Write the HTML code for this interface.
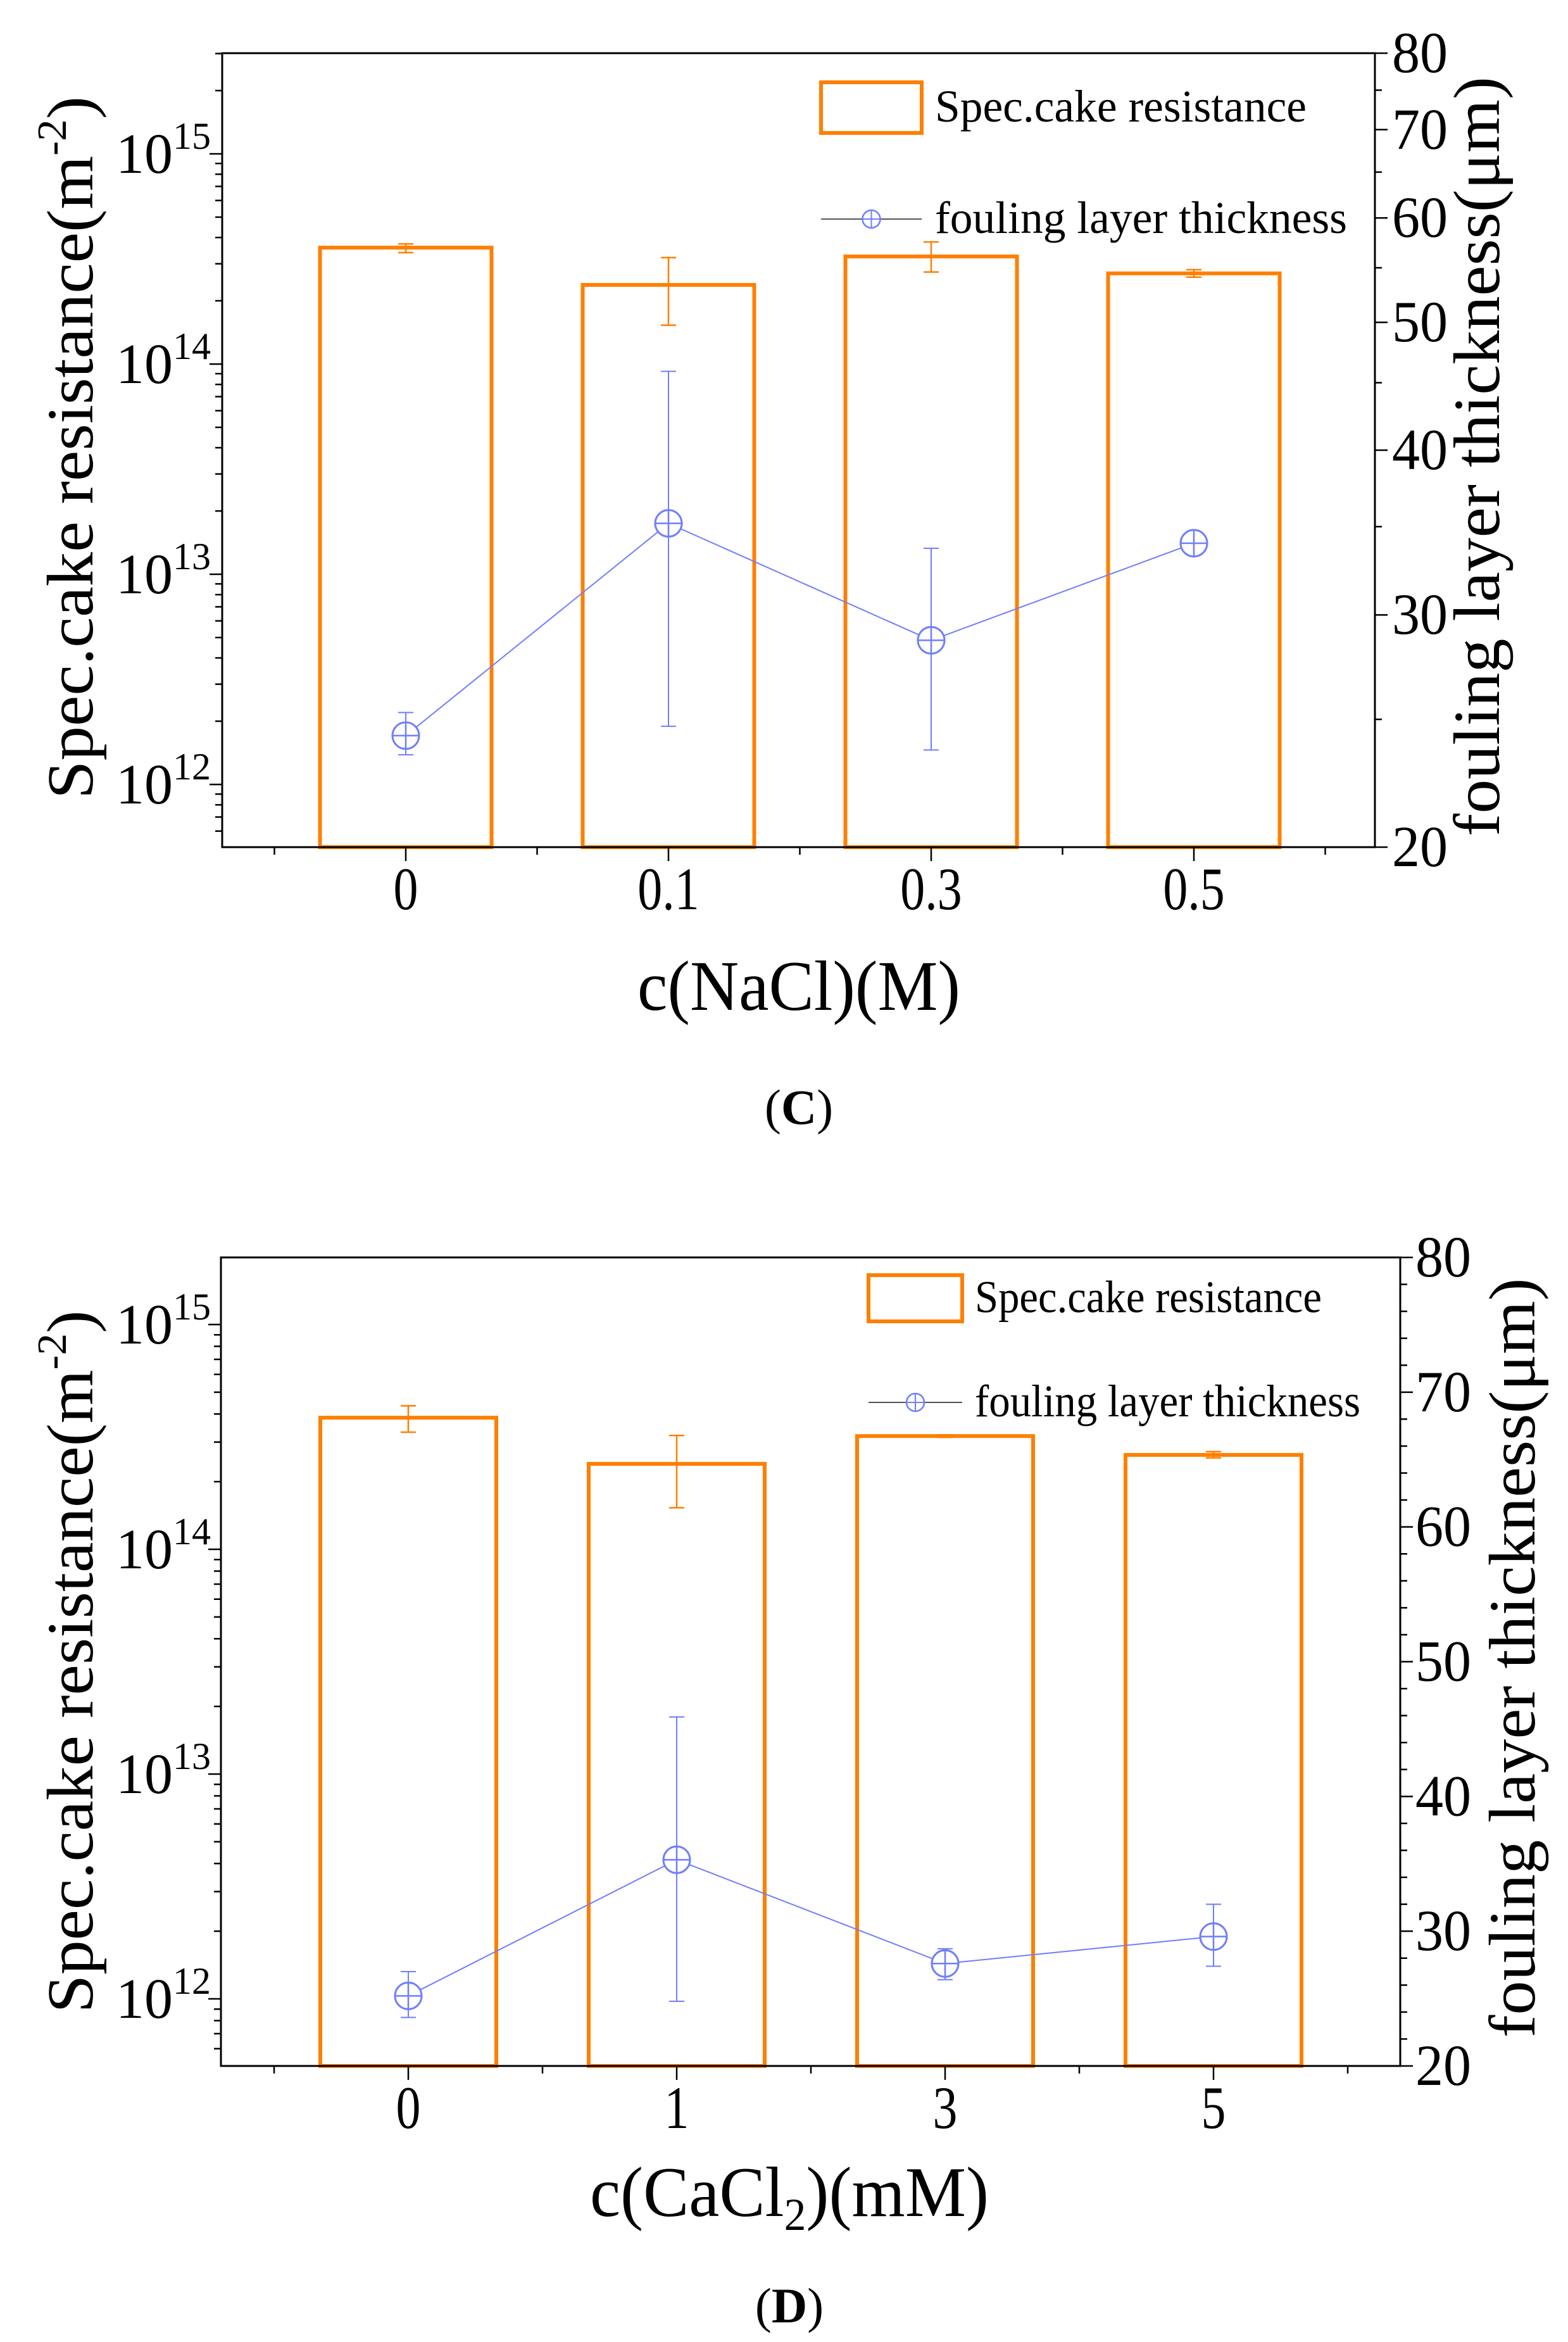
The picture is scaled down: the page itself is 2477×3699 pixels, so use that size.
<!DOCTYPE html>
<html><head><meta charset="utf-8"><style>
html,body{margin:0;padding:0;background:#fff;}
svg{display:block;}
text{font-family:"Liberation Serif",serif;fill:#000;}
</style></head><body>
<svg id="fig" width="2477" height="3699" viewBox="0 0 2477 3699" xmlns="http://www.w3.org/2000/svg"></svg>
<script>
// ---------- Panel C data ----------
const catsC = ["0","0.1","0.3","0.5"];
const resC = [3.58e14, 2.38e14, 3.25e14, 2.70e14];
const resHiC = [3.73e14, 3.21e14, 3.81e14, 2.81e14];
const resLoC = [3.39e14, 1.53e14, 2.74e14, 2.59e14];
const thickC = [24.3, 35.2, 28.7, 34.0];
const thickHiC = [25.3, 45.9, 33.7, 34.3];
const thickLoC = [23.5, 24.7, 23.7, 33.7];
const rightTicksC = [20,30,40,50,60,70,80];
// ---------- Panel D data ----------
const catsD = ["0","1","3","5"];
const resD = [3.85e14, 2.40e14, 3.19e14, 2.63e14];
const resHiD = [4.35e14, 3.21e14, 3.23e14, 2.72e14];
const resLoD = [3.32e14, 1.53e14, 3.15e14, 2.55e14];
const thickD = [25.2, 35.3, 27.6, 29.6];
const thickHiD = [27.0, 45.9, 28.7, 32.0];
const thickLoD = [23.6, 24.8, 26.4, 27.4];
const rightTicksD = [20,30,40,50,60,70,80];
const leftExps = [12,13,14,15];

const NS="http://www.w3.org/2000/svg";
const svg=document.getElementById('fig');
const OR="#ff7f00", BL="#6f7dff";
function mk(tag,attrs,parent){const e=document.createElementNS(NS,tag);for(const k in attrs)e.setAttribute(k,attrs[k]);(parent||svg).appendChild(e);return e;}

function panel(cfg){
  const g=mk('g',{});
  
  
  const L=cfg.L,R=cfg.R,T=cfg.T,B=cfg.B;
  const yL=v=>cfg.y15+(15-Math.log10(v))*cfg.dec;
  const yR=cfg.rightLog
    ? v=>T+(Math.log10(80)-Math.log10(v))/(Math.log10(80)-Math.log10(20))*(B-T)
    : v=>T+(80-v)/60*(B-T);
  const xC=i=>cfg.x0+i*cfg.sp;
  cfg.res.forEach((v,i)=>{
    const r=mk('rect',{x:xC(i)-cfg.bw/2,y:yL(v),width:cfg.bw,height:B-yL(v),fill:'none',stroke:OR,'stroke-width':6},g);
    
    
    const hi=yL(cfg.resHi[i]),lo=yL(cfg.resLo[i]);
    const eb=mk('path',{d:`M${xC(i)} ${hi}V${lo}M${xC(i)-12} ${hi}H${xC(i)+12}M${xC(i)-12} ${lo}H${xC(i)+12}`,stroke:OR,'stroke-width':2.5,fill:'none'},g);
    
    
  });
  const fr=mk('rect',{x:L,y:T,width:R-L,height:B-T,fill:'none',stroke:'#000','stroke-width':3},g);
  
  
  const pts=cfg.th.map((v,i)=>xC(i)+','+yR(v)).join(' ');
  const pl=mk('polyline',{points:pts,fill:'none',stroke:BL,'stroke-width':2},g);
  
  
  cfg.th.forEach((v,i)=>{
    const x=xC(i),y=yR(v),hi=yR(cfg.thHi[i]),lo=yR(cfg.thLo[i]);
    const e=mk('path',{d:`M${x} ${hi}V${lo}M${x-12} ${hi}H${x+12}M${x-12} ${lo}H${x+12}`,stroke:BL,'stroke-width':2,fill:'none'},g);
    
    
    const c=mk('circle',{cx:x,cy:y,r:21,fill:'#fff',stroke:BL,'stroke-width':3},g);
    
    
    mk('path',{d:`M${x-21} ${y}H${x+21}M${x} ${y-21}V${y+21}`,stroke:BL,'stroke-width':2.5},g);
  });
  for(let e=11;e<=15;e++){
    for(let m=1;m<10;m++){
      const v=m*Math.pow(10,e),y=yL(v);
      if(y<T||y>B)continue;
      mk('line',{x1:L,x2:L-(m==1?20:11),y1:y,y2:y,stroke:'#000','stroke-width':2.5},g);
    }
  }
  leftExps.forEach(e=>{
    const t=mk('text',{x:cfg.tlx,y:yL(Math.pow(10,e))+30,'font-size':90},g);
    
    
    t.textContent='10';
    const s=mk('tspan',{'font-size':60,dy:-38},t);
    s.textContent=String(e);
  });
  const step=cfg.rightLog?5:2;
  for(let v=20;v<=80;v+=step){
    const y=yR(v),maj=v%10==0;
    mk('line',{x1:R,x2:R+(maj?20:11),y1:y,y2:y,stroke:'#000','stroke-width':2.5},g);
  }
  cfg.rticks.forEach(v=>{
    const t=mk('text',{x:cfg.trx,y:yR(v)+30,'font-size':92,textLength:88,lengthAdjust:'spacingAndGlyphs'},g);
    
    
    t.textContent=String(v);
  });
  for(let k=-1;k<=8;k++){
    const x=cfg.x0+k*cfg.sp/2;
    if(x<L||x>R)continue;
    mk('line',{x1:x,x2:x,y1:B,y2:B+(k%2==0?22:12),stroke:'#000','stroke-width':2.5},g);
  }
  cfg.cats.forEach((c,i)=>{
    const t=mk('text',{x:xC(i),y:B+98,'font-size':95,'text-anchor':'middle'},g);
    
    
    t.setAttribute('transform',`translate(${xC(i)} 0) scale(0.82 1) translate(${-xC(i)} 0)`);
    t.textContent=c;
  });
  const lt=mk('text',{x:0,y:0,'font-size':104,'text-anchor':'middle',transform:`translate(${cfg.ltx} ${(T+B)/2+cfg.ltdy}) rotate(-90)`,textLength:cfg.ltlen,lengthAdjust:'spacingAndGlyphs'},g);
  
  
  lt.innerHTML='Spec.cake resistance(m<tspan font-size="66" dy="-42">-2</tspan><tspan dy="42">)</tspan>';
  const rt=mk('text',{x:0,y:0,'font-size':104,'text-anchor':'middle',transform:`translate(${cfg.rtx} ${(T+B)/2+cfg.rtdy}) rotate(-90)`,textLength:cfg.rtlen,lengthAdjust:'spacingAndGlyphs'},g);
  
  
  rt.textContent='fouling layer thickness(μm)';
  const xt=mk('text',{x:cfg.xtx,y:cfg.xty,'font-size':112,'text-anchor':'middle',textLength:cfg.xtlen,lengthAdjust:'spacingAndGlyphs'},g);
  
  
  xt.innerHTML=cfg.xtitle;
  const pl2=mk('text',{x:cfg.xtx,y:cfg.ply,'font-size':78,'text-anchor':'middle'},g);
  
  
  pl2.innerHTML=cfg.plabel;
  const lg=cfg.lg;
  const lr=mk('rect',{x:lg.x,y:lg.y1,width:lg.w,height:lg.h,fill:'none',stroke:OR,'stroke-width':6},g);
  
  
  const l1=mk('text',{x:lg.tx,y:lg.y1+lg.h/2+22,'font-size':72,textLength:lg.t1,lengthAdjust:'spacingAndGlyphs'},g);
  
  
  l1.textContent='Spec.cake resistance';
  const mx=lg.x+lg.w/2;
  mk('line',{x1:lg.x,x2:lg.x+lg.w,y1:lg.y2,y2:lg.y2,stroke:'#555','stroke-width':2},g);
  const lc=mk('circle',{cx:mx,cy:lg.y2,r:14,fill:'#fff',stroke:BL,'stroke-width':2.5},g);
  
  
  mk('path',{d:`M${mx-14} ${lg.y2}H${mx+14}M${mx} ${lg.y2-14}V${lg.y2+14}`,stroke:BL,'stroke-width':2},g);
  const l2=mk('text',{x:lg.tx,y:lg.y2+22,'font-size':72,textLength:lg.t2,lengthAdjust:'spacingAndGlyphs'},g);
  
  
  l2.textContent='fouling layer thickness';
}

panel({name:'panel-c',L:351,R:2172,T:84,B:1338,y15:243,dec:332,rightLog:true,
  x0:641,sp:415,bw:271,cats:catsC,res:resC,resHi:resHiC,resLo:resLoC,th:thickC,thHi:thickHiC,thLo:thickLoC,rticks:rightTicksC,
  tlx:183,trx:2199,ltx:146,ltdy:-4,ltlen:1110,rtx:2368,rtdy:10,rtlen:1200,
  xtx:1262,xty:1595,xtlen:510,xtitle:'c(NaCl)(M)',ply:1775,plabel:'(<tspan font-weight="bold">C</tspan>)',
  lg:{x:1297,w:159,y1:130,h:80,y2:346,tx:1477,t1:587,t2:651}});
panel({name:'panel-d',L:349,R:2212,T:1986,B:3263,y15:2092,dec:355,rightLog:false,
  x0:645,sp:424,bw:278,cats:catsD,res:resD,resHi:resHiD,resLo:resLoD,th:thickD,thHi:thickHiD,thLo:thickLoD,rticks:rightTicksD,
  tlx:183,trx:2236,ltx:146,ltdy:0,ltlen:1110,rtx:2424,rtdy:-6,rtlen:1200,
  xtx:1247,xty:3500,xtlen:630,xtitle:'c(CaCl<tspan font-size="72" dy="22">2</tspan><tspan dy="-22">)(mM)</tspan>',ply:3668,plabel:'(<tspan font-weight="bold">D</tspan>)',
  lg:{x:1372,w:148,y1:2014,h:73,y2:2215,tx:1540,t1:548,t2:609}});
</script>
</body></html>
